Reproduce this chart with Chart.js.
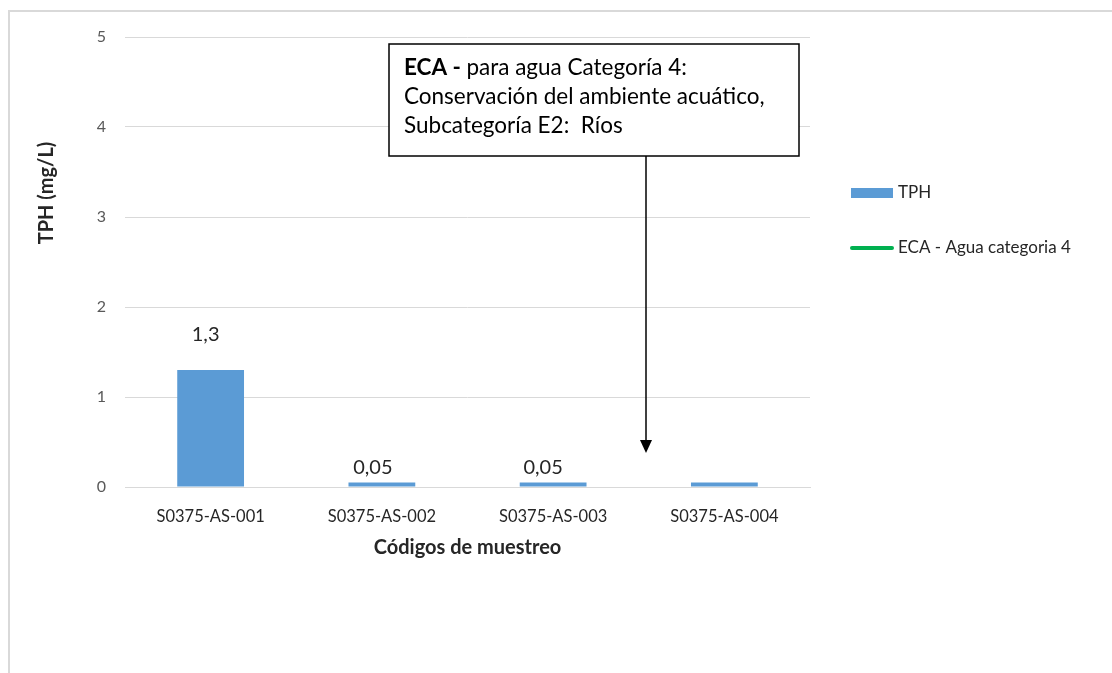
<!DOCTYPE html>
<html>
<head>
<meta charset="utf-8">
<script src="https://cdn.jsdelivr.net/npm/chart.js@4.4.1/dist/chart.umd.min.js"></script>
<style>
  html, body { margin: 0; padding: 0; background: #fff; }
  #wrap { position: relative; width: 1112px; height: 673px; overflow: hidden; }
  #frame { position: absolute; left: 8px; top: 10px; width: 1200px; height: 800px;
           border-left: 2px solid #d9d9d9; border-top: 2px solid #d9d9d9; }
  canvas { position: absolute; left: 0; top: 0; }
</style>
</head>
<body>
<div id="wrap">
  <div id="frame"></div>
  <canvas id="tphChart" width="1112" height="673"></canvas>
</div>
<script>
// muestras y resultados de TPH (mg/L)
const codigos = ['S0375-AS-001', 'S0375-AS-002', 'S0375-AS-003', 'S0375-AS-004'];
const tph = [1.3, 0.05, 0.05, 0.05];
const eca = [null, null, null, null];
const yTicks = [0, 1, 2, 3, 4, 5];

const FONT = 'Lato, "Open Sans", sans-serif';

// etiquetas de valor encima de las barras (coma decimal)
const valueLabels = {
  id: 'valueLabels',
  afterDatasetsDraw(chart, args, opts) {
    const ctx = chart.ctx;
    const meta = chart.getDatasetMeta(0);
    ctx.save();
    ctx.font = '20px ' + FONT;
    ctx.fillStyle = '#262626';
    ctx.textAlign = 'center';
    ctx.textBaseline = 'middle';
    meta.data.forEach((bar, i) => {
      if (!opts.show[i]) return;
      const txt = String(chart.data.datasets[0].data[i]).replace('.', ',');
      ctx.fillText(txt, bar.x + opts.dx[i], bar.y - opts.dy[i]);
    });
    ctx.restore();
  }
};

// título del eje Y, algo por encima del centro
const yTitle = {
  id: 'yTitle',
  afterDraw(chart) {
    const ctx = chart.ctx;
    ctx.save();
    ctx.translate(47, 193);
    ctx.rotate(-Math.PI / 2);
    ctx.font = 'bold 20px ' + FONT;
    ctx.fillStyle = '#262626';
    ctx.textAlign = 'center';
    ctx.textBaseline = 'middle';
    ctx.fillText('TPH (mg/L)', 0, 0);
    ctx.restore();
  }
};

// leyenda a la derecha
const sideLegend = {
  id: 'sideLegend',
  afterDraw(chart) {
    const ctx = chart.ctx;
    const ds = chart.data.datasets;
    ctx.save();
    ctx.font = '17px ' + FONT;
    ctx.textBaseline = 'middle';
    // TPH
    ctx.fillStyle = ds[0].backgroundColor;
    ctx.fillRect(851, 188, 42, 10);
    ctx.fillStyle = '#262626';
    ctx.fillText(ds[0].label, 898, 193);
    // ECA
    ctx.strokeStyle = ds[1].borderColor;
    ctx.lineWidth = 4;
    ctx.lineCap = 'round';
    ctx.beginPath();
    ctx.moveTo(852, 248);
    ctx.lineTo(892, 248);
    ctx.stroke();
    ctx.fillText(ds[1].label, 898, 248);
    ctx.restore();
  }
};

// recuadro con la nota del ECA y la flecha
const ecaNote = {
  id: 'ecaNote',
  afterDraw(chart) {
    const ctx = chart.ctx;
    ctx.save();
    ctx.fillStyle = '#fff';
    ctx.fillRect(389, 44, 410, 112);
    ctx.strokeStyle = '#000';
    ctx.lineWidth = 1.5;
    ctx.strokeRect(389, 44, 410, 112);

    ctx.fillStyle = '#000';
    ctx.textBaseline = 'middle';
    ctx.font = 'bold 22.5px ' + FONT;
    const bold = 'ECA - ';
    ctx.fillText(bold, 404, 68);
    const w = ctx.measureText(bold).width;
    ctx.font = '22.5px ' + FONT;
    ctx.fillText('para agua Categoría 4:', 404 + w, 68);
    ctx.fillText('Conservación del ambiente acuático,', 404, 97);
    ctx.fillText('Subcategoría E2:  Ríos', 404, 126);

    ctx.lineWidth = 1.5;
    ctx.beginPath();
    ctx.moveTo(646, 156);
    ctx.lineTo(646, 442);
    ctx.stroke();
    ctx.beginPath();
    ctx.moveTo(640, 440);
    ctx.lineTo(652, 440);
    ctx.lineTo(646, 453);
    ctx.closePath();
    ctx.fill();
    ctx.restore();
  }
};

new Chart(document.getElementById('tphChart'), {
  data: {
    labels: codigos,
    datasets: [
      {
        type: 'bar',
        label: 'TPH',
        data: tph,
        backgroundColor: '#5B9BD5',
        categoryPercentage: 1,
        barPercentage: 0.39,
        order: 2
      },
      {
        type: 'line',
        label: 'ECA - Agua categoria 4',
        data: eca,
        borderColor: '#00B050',
        borderWidth: 4,
        pointRadius: 0,
        order: 1
      }
    ]
  },
  options: {
    responsive: false,
    animation: false,
    layout: { padding: { left: 0, right: 302, top: 37, bottom: 0 } },
    plugins: {
      legend: { display: false },
      tooltip: { enabled: false },
      valueLabels: { show: [true, true, true, false], dx: [-5, -9, -10, 0], dy: [35, 14.5, 14.5, 0] }
    },
    scales: {
      x: {
        grid: { display: false },
        border: { color: '#d9d9d9', width: 1 },
        ticks: { color: '#262626', font: { family: FONT, size: 16.5 }, padding: 12, maxRotation: 0 },
        title: { display: true, text: 'Códigos de muestreo', color: '#262626',
                 font: { family: FONT, size: 20, weight: 'bold' }, padding: { top: 0, bottom: 113 } },
        afterFit(scale) { scale.height = 186; }
      },
      y: {
        min: 0,
        max: 5,
        afterBuildTicks(scale) { scale.ticks = yTicks.map(v => ({ value: v })); },
        grid: { color: '#d9d9d9', lineWidth: 1, drawTicks: false },
        border: { display: false },
        ticks: { color: '#595959', font: { family: FONT, size: 16 }, padding: 19 },
        afterFit(scale) { scale.width = 125; }
      }
    }
  },
  plugins: [valueLabels, yTitle, sideLegend, ecaNote]
});
</script>
</body>
</html>
